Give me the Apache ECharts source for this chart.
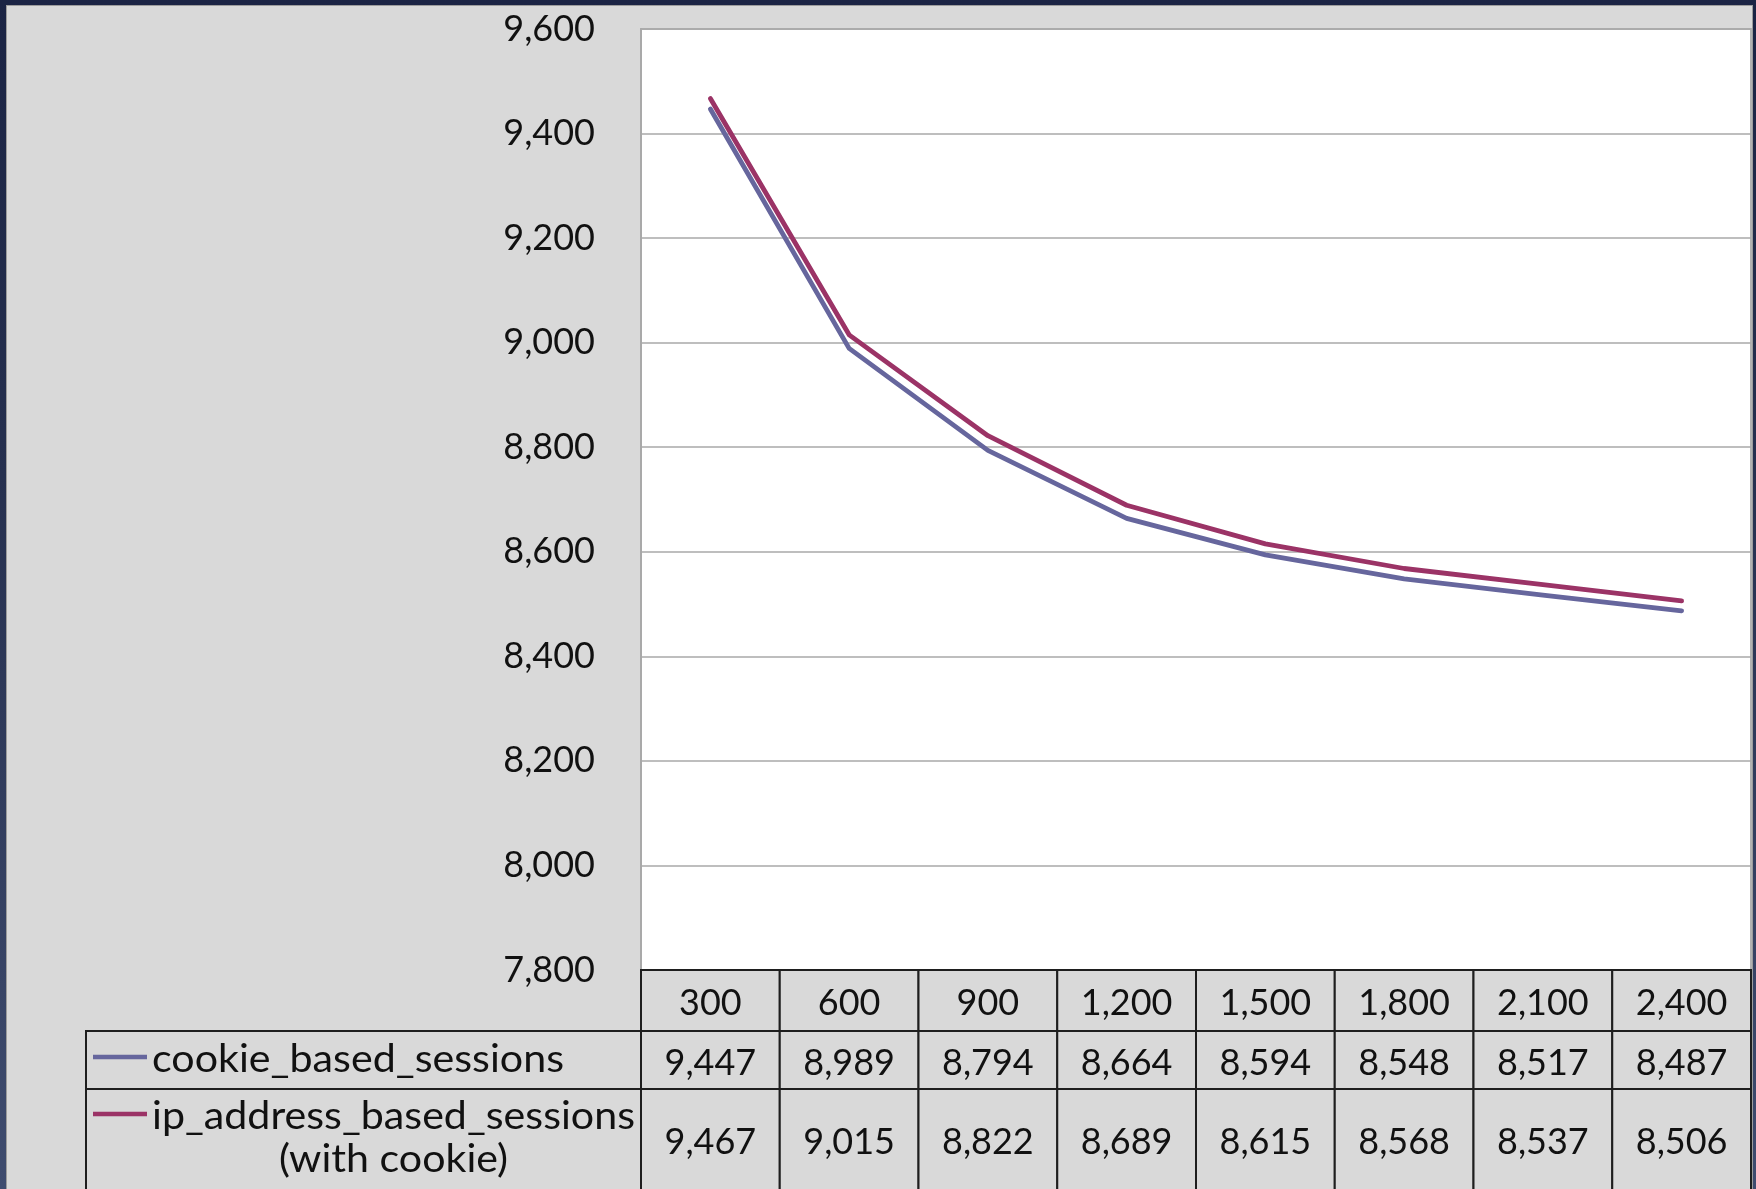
<!DOCTYPE html>
<html>
<head>
<meta charset="utf-8">
<title>Sessions by timeout</title>
<script src="https://cdn.jsdelivr.net/npm/echarts@6/dist/echarts.min.js"></script>
<style>
  html, body {
    margin: 0;
    padding: 0;
    width: 1756px;
    height: 1189px;
    overflow: hidden;
    background: linear-gradient(180deg, #1b2444 0%, #26304f 40%, #3f4c6f 100%);
  }
  #chart {
    position: absolute;
    left: 6px;
    top: 5px;
    width: 1747px;
    height: 1200px;
    box-sizing: border-box;
    border: 1px solid #9c9c9c;
    background: #d9d9d9;
  }
</style>
</head>
<body>
<div id="chart"></div>
<script>
// Session timeout (seconds) on the category axis
const timeouts = ['300', '600', '900', '1,200', '1,500', '1,800', '2,100', '2,400'];

// Session counts per timeout
const cookieSessions = [9447, 8989, 8794, 8664, 8594, 8548, 8517, 8487];
const ipSessions = [9467, 9015, 8822, 8689, 8615, 8568, 8537, 8506];

const seriesNames = ['cookie_based_sessions', 'ip_address_based_sessions\n(with cookie)'];
const seriesColors = ['#66669d', '#9b3366'];

// Value axis range
const yMin = 7800;
const yMax = 9600;
const yStep = 200;

const FONT = 'Lato, "Open Sans", sans-serif';
const LEGEND_FONT = '38px ' + FONT;
const fmt = v => Number(v).toLocaleString('en-US');

// Data-table layout (pixels inside the chart)
const tableTop = 964;
const rowEdges = [0, 61, 119, 223];
const rowTextShift = [3, 3, 1];
const legendLeft = 79;
const plotLeft = 634;

// Legend labels are set in a wide face; stretch to the table's column of text
const measureCtx = document.createElement('canvas').getContext('2d');
function textWidth(str, font) {
  measureCtx.font = font;
  return measureCtx.measureText(str).width;
}

const chart = echarts.init(document.getElementById('chart'), null, { renderer: 'canvas' });

// One cell per timeout for the header row and each series row
const cellData = [];
timeouts.forEach((t, i) => {
  cellData.push([i, 0]);
  cellData.push([i, 1]);
  cellData.push([i, 2]);
});

function cellText(col, row) {
  if (row === 0) return timeouts[col];
  if (row === 1) return fmt(cookieSessions[col]);
  return fmt(ipSessions[col]);
}

function renderCell(params, api) {
  const col = api.value(0);
  const row = api.value(1);
  const cx = api.coord([col, 0])[0];
  const w = api.size([1, 0])[0];
  const top = api.coord([0, rowEdges[row]])[1];
  const bottom = api.coord([0, rowEdges[row + 1]])[1];
  return {
    type: 'group',
    children: [
      {
        type: 'rect',
        shape: { x: cx - w / 2, y: top, width: w, height: bottom - top },
        style: { fill: '#d9d9d9', stroke: '#1e1e1e', lineWidth: 2 }
      },
      {
        type: 'text',
        style: {
          text: cellText(col, row),
          x: cx,
          y: (top + bottom) / 2 + rowTextShift[row],
          align: 'center',
          verticalAlign: 'middle',
          font: '36px ' + FONT,
          fill: '#111'
        }
      }
    ]
  };
}

// Legend cells to the left of the series rows
const r1Top = tableTop + rowEdges[1];
const r2Top = tableTop + rowEdges[2];
const r2Bottom = tableTop + rowEdges[3];
const labelLeft = legendLeft + 66;
const ipLines = seriesNames[1].split('\n');

const cookieScale = 412 / textWidth(seriesNames[0], LEGEND_FONT);
const ipScale = 483 / textWidth(ipLines[0], LEGEND_FONT);
const ipCenter = labelLeft + 483 / 2;

const legendGraphics = [
  {
    type: 'rect',
    shape: { x: legendLeft, y: r1Top, width: plotLeft - legendLeft, height: rowEdges[2] - rowEdges[1] },
    style: { fill: '#d9d9d9', stroke: '#1e1e1e', lineWidth: 2 },
    z: 10
  },
  {
    type: 'rect',
    shape: { x: legendLeft, y: r2Top, width: plotLeft - legendLeft, height: r2Bottom - r2Top },
    style: { fill: '#d9d9d9', stroke: '#1e1e1e', lineWidth: 2 },
    z: 10
  },
  {
    type: 'line',
    shape: { x1: legendLeft + 7, y1: r1Top + 26, x2: legendLeft + 61, y2: r1Top + 26 },
    style: { stroke: seriesColors[0], lineWidth: 4.5 },
    z: 11
  },
  {
    type: 'text',
    x: labelLeft, y: r1Top + 29, scaleX: cookieScale,
    style: {
      text: seriesNames[0], x: 0, y: 0,
      align: 'left', verticalAlign: 'middle', font: LEGEND_FONT, fill: '#111'
    },
    z: 11
  },
  {
    type: 'line',
    shape: { x1: legendLeft + 7, y1: r2Top + 25, x2: legendLeft + 61, y2: r2Top + 25 },
    style: { stroke: seriesColors[1], lineWidth: 4.5 },
    z: 11
  },
  {
    type: 'text',
    x: labelLeft, y: r2Top + 28, scaleX: ipScale,
    style: {
      text: ipLines[0], x: 0, y: 0,
      align: 'left', verticalAlign: 'middle', font: LEGEND_FONT, fill: '#111'
    },
    z: 11
  },
  {
    type: 'text',
    x: ipCenter, y: r2Top + 71, scaleX: ipScale,
    style: {
      text: ipLines[1], x: 0, y: 0,
      align: 'center', verticalAlign: 'middle', font: LEGEND_FONT, fill: '#111'
    },
    z: 11
  }
];

chart.setOption({
  backgroundColor: 'transparent',
  animation: false,
  textStyle: { fontFamily: FONT },
  grid: [
    {
      left: plotLeft, top: 23, right: 1, height: 941,
      show: true, backgroundColor: '#ffffff', borderColor: '#b2b2b2', borderWidth: 2
    },
    {
      left: plotLeft, top: tableTop, right: 1, height: rowEdges[3]
    }
  ],
  xAxis: [
    {
      type: 'category', gridIndex: 0, data: timeouts, boundaryGap: true,
      axisLine: { show: false }, axisTick: { show: false }, axisLabel: { show: false },
      splitLine: { show: false }
    },
    {
      type: 'category', gridIndex: 1, data: timeouts, boundaryGap: true,
      axisLine: { show: false }, axisTick: { show: false }, axisLabel: { show: false },
      splitLine: { show: false }
    }
  ],
  yAxis: [
    {
      type: 'value', gridIndex: 0, min: yMin, max: yMax, interval: yStep,
      axisLine: { show: true, lineStyle: { color: '#a9a9a9', width: 2 } },
      axisTick: { show: false },
      axisLabel: {
        formatter: v => fmt(v), fontSize: 36, color: '#111', margin: 46, fontFamily: FONT
      },
      splitLine: { show: true, lineStyle: { color: '#a9a9a9', width: 1.5 } }
    },
    {
      type: 'value', gridIndex: 1, min: 0, max: rowEdges[3], inverse: true,
      show: false
    }
  ],
  series: [
    {
      name: 'cookie_based_sessions',
      type: 'line', xAxisIndex: 0, yAxisIndex: 0,
      data: cookieSessions, symbol: 'none',
      lineStyle: { color: seriesColors[0], width: 4.8, cap: 'round', join: 'round' },
      itemStyle: { color: seriesColors[0] },
      z: 3
    },
    {
      name: 'ip_address_based_sessions (with cookie)',
      type: 'line', xAxisIndex: 0, yAxisIndex: 0,
      data: ipSessions, symbol: 'none',
      lineStyle: { color: seriesColors[1], width: 4.8, cap: 'round', join: 'round' },
      itemStyle: { color: seriesColors[1] },
      z: 4
    },
    {
      name: 'data table',
      type: 'custom', xAxisIndex: 1, yAxisIndex: 1,
      data: cellData, renderItem: renderCell, clip: false, silent: true,
      z: 5
    }
  ],
  graphic: legendGraphics
});
</script>
</body>
</html>
